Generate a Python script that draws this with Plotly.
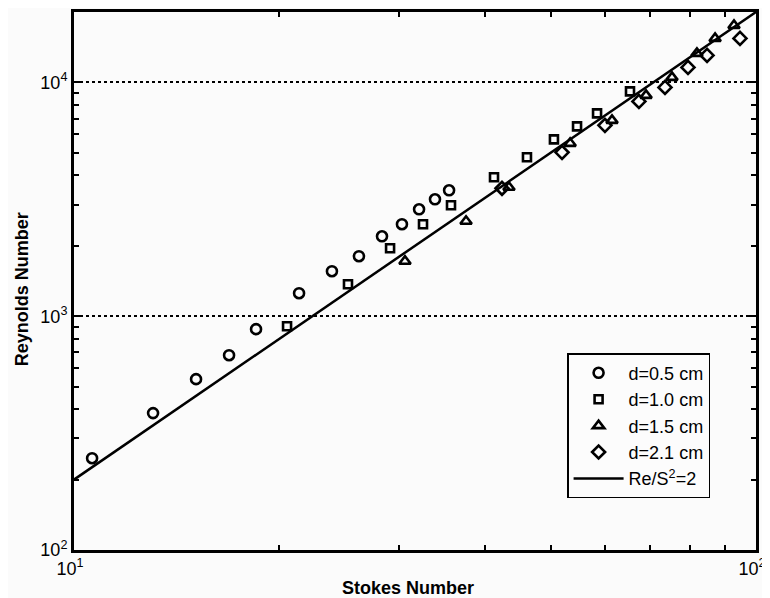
import numpy as np
import plotly.graph_objects as go

# Data (Stokes number, Reynolds number)
s_05 = [10.63, 13.06, 15.10, 16.88, 18.49, 21.38, 23.89, 26.17, 28.29, 30.26, 32.06, 33.83, 35.48]
re_05 = [247, 385, 538, 681, 880, 1254, 1557, 1805, 2197, 2474, 2866, 3162, 3455]

s_10 = [20.53, 25.22, 29.07, 32.49, 35.71, 41.29, 46.15, 50.55, 54.65, 58.47, 65.35]
re_10 = [906, 1370, 1953, 2474, 2981, 3926, 4781, 5707, 6486, 7371, 9153]

s_15 = [30.57, 37.57, 43.43, 53.39, 61.50, 68.99, 75.30, 81.92, 87.10, 92.84]
re_15 = [1718, 2547, 3558, 5487, 6880, 8799, 10504, 13302, 15418, 17522]

s_21 = [42.42, 51.95, 60.05, 67.35, 73.55, 79.49, 84.77, 94.74]
re_21 = [3524, 5023, 6549, 8294, 9519, 11590, 13045, 15418]

fit_ratio = 2  # Re / S^2 = 2
fit_s = [10, 100]
fit_re = [fit_ratio * s ** 2 for s in fit_s]

x_range = [10, 100]
y_range = [100, 20000]
x_major = [10, 100]
x_major_text = ["10<sup>1</sup>", "10<sup>2</sup>"]
y_major = [100, 1000, 10000]
y_major_text = ["10<sup>2</sup>", "10<sup>3</sup>", "10<sup>4</sup>"]
x_minor = [m * 10 for m in range(2, 10)]
y_minor = [m * 10 ** e for e in (2, 3) for m in range(2, 10)] + [20000]

x_title = "<b>Stokes Number</b>"
y_title = "<b>Reynolds Number</b>"

FONT = "Liberation Sans, Arial, sans-serif"


def mk(symbol, size):
    return dict(symbol=symbol, size=size, color="black",
                line=dict(color="black", width=2.6))


fig = go.Figure()
fig.add_trace(go.Scatter(x=s_05, y=re_05, mode="markers", name="d=0.5 cm",
                         marker=mk("circle-open", 10)))
fig.add_trace(go.Scatter(x=s_10, y=re_10, mode="markers", name="d=1.0 cm",
                         marker=mk("square-open", 8)))
fig.add_trace(go.Scatter(x=s_15, y=re_15, mode="markers", name="d=1.5 cm",
                         marker=mk("triangle-up-open", 10)))
fig.add_trace(go.Scatter(x=s_21, y=re_21, mode="markers", name="d=2.1 cm",
                         marker=mk("diamond-open", 10)))
fig.add_trace(go.Scatter(x=fit_s, y=fit_re, mode="lines", name="Re/S<sup>2</sup>=2",
                         line=dict(color="black", width=2.5)))

fig.update_layout(
    width=762, height=590,
    margin=dict(l=66, r=14, t=4, b=48),
    paper_bgcolor="#fbfbfb", plot_bgcolor="#fbfbfb",
    font=dict(family=FONT, size=15, color="black"),
    showlegend=True,
    legend=dict(x=0.723, y=0.366, xanchor="left", yanchor="top",
                bgcolor="#fcfcfc", bordercolor="black", borderwidth=1.5,
                font=dict(size=18, family=FONT), itemwidth=50,
                tracegroupgap=0),
    annotations=[
        dict(text=x_title, xref="paper", yref="paper", x=0.49, y=-0.07,
             xanchor="center", yanchor="middle", showarrow=False,
             font=dict(size=18, family=FONT)),
        dict(text=y_title, xref="paper", yref="paper", x=-0.076, y=0.485,
             xanchor="center", yanchor="middle", showarrow=False, textangle=-90,
             font=dict(size=18, family=FONT)),
    ],
)
fig.update_xaxes(
    type="log", range=[np.log10(x_range[0]), np.log10(x_range[1])],
    tickmode="array", tickvals=x_major, ticktext=x_major_text,
    ticks="inside", ticklen=7, tickwidth=2, tickcolor="black",
    showline=True, linecolor="black", linewidth=3, mirror="ticks",
    showgrid=False, zeroline=False, automargin=False,
    ticklabelshift=-4,
    minor=dict(tickmode="array", tickvals=x_minor, ticks="inside",
               ticklen=5, tickwidth=2, tickcolor="black", showgrid=False),
    tickfont=dict(size=18, family=FONT),
)
fig.update_yaxes(
    type="log", range=[np.log10(y_range[0]), np.log10(y_range[1])],
    tickmode="array", tickvals=y_major, ticktext=y_major_text,
    ticks="inside", ticklen=7, tickwidth=2, tickcolor="black",
    showline=True, linecolor="black", linewidth=3, mirror="ticks",
    showgrid=True, gridcolor="black", gridwidth=1.5, griddash="dot",
    zeroline=False, automargin=False,
    minor=dict(tickmode="array", tickvals=y_minor, ticks="inside",
               ticklen=5, tickwidth=2, tickcolor="black", showgrid=False),
    tickfont=dict(size=18, family=FONT),
)

fig.write_html("out.html")
